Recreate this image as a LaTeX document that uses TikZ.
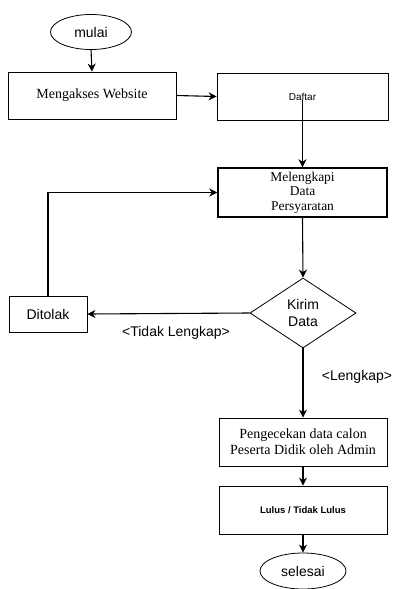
\documentclass[tikz,border=0pt]{standalone}
\usepackage{fontspec}
\setmainfont{Liberation Serif}
\newfontfamily\arialfont{Liberation Sans}
\usetikzlibrary{shapes.geometric,arrows.meta}
\begin{document}
\begin{tikzpicture}[x=1pt,y=-1pt,
  box/.style={draw, line width=0.8pt, rectangle, inner sep=0pt, align=center},
  serifbox/.style={box, font=\fontsize{14}{16}\selectfont},
  sansbox/.style={box, font=\arialfont\fontsize{14}{17}\selectfont},
  oval/.style={draw, line width=0.8pt, ellipse, inner sep=0pt, font=\arialfont\fontsize{14}{17}\selectfont},
  flow/.style={line width=1.1pt, -{Stealth[length=8pt,width=8pt,inset=2.5pt]}},
  lbl/.style={font=\arialfont\fontsize{14}{17}\selectfont, inner sep=0pt}]
\useasboundingbox (0,0) rectangle (393,589);

% start / end
\node[oval, minimum width=81pt, minimum height=35pt] (mulai) at (91,32) {mulai};
\node[oval, minimum width=86pt, minimum height=36pt] (selesai) at (303,571) {selesai};

% process boxes
\node[serifbox, minimum width=168pt, minimum height=47pt] (web) at (92,95.5) {Mengakses Website};
\node[box, font=\arialfont\fontsize{10}{12}\selectfont, minimum width=171pt, minimum height=47pt] (daftar) at (302.5,96.5) {Daftar};
\node[box, line width=1.5pt, font=\fontsize{13.5}{14.5}\selectfont, minimum width=169pt, minimum height=49pt] (leng) at (302.5,192.5) {Melengkapi\\Data\\Persyaratan};
\node[sansbox, minimum width=78pt, minimum height=36pt] (tolak) at (48,314) {Ditolak};
\node[serifbox, minimum width=168pt, minimum height=48pt] (cek) at (303,442) {Pengecekan data calon\\Peserta Didik oleh Admin};
\node[box, font=\arialfont\bfseries\fontsize{9.5}{12}\selectfont, minimum width=168pt, minimum height=48pt] (lulus) at (303,510) {Lulus / Tidak Lulus};

% decision
\node[draw, line width=0.8pt, diamond, aspect=1.5, inner sep=0pt, minimum width=106pt, minimum height=70pt, align=center, font=\arialfont\fontsize{14}{17}\selectfont] (kirim) at (303,313) {Kirim\\Data};

% connectors
\draw[flow] (mulai.south) -- (web.north);
\draw[flow] (web.east) -- (daftar.west);
\draw[flow] ([yshift=-3.5pt]daftar.center) -- (leng.north);
\draw[flow] (leng.south) -- (kirim.north);
\draw[flow] (kirim.west) -- (tolak.east);
\draw[flow] (tolak.north) |- (leng.west);
\draw[flow] (kirim.south) -- (cek.north);
\draw[flow] (cek.south) -- (lulus.north);
\draw[flow] (lulus.south) -- (selesai.north);

% branch labels
\node[lbl] (tl) at (176,333) {<Tidak Lengkap>};
\node[lbl] (lk) at (357,377) {<Lengkap>};
\end{tikzpicture}
\end{document}
